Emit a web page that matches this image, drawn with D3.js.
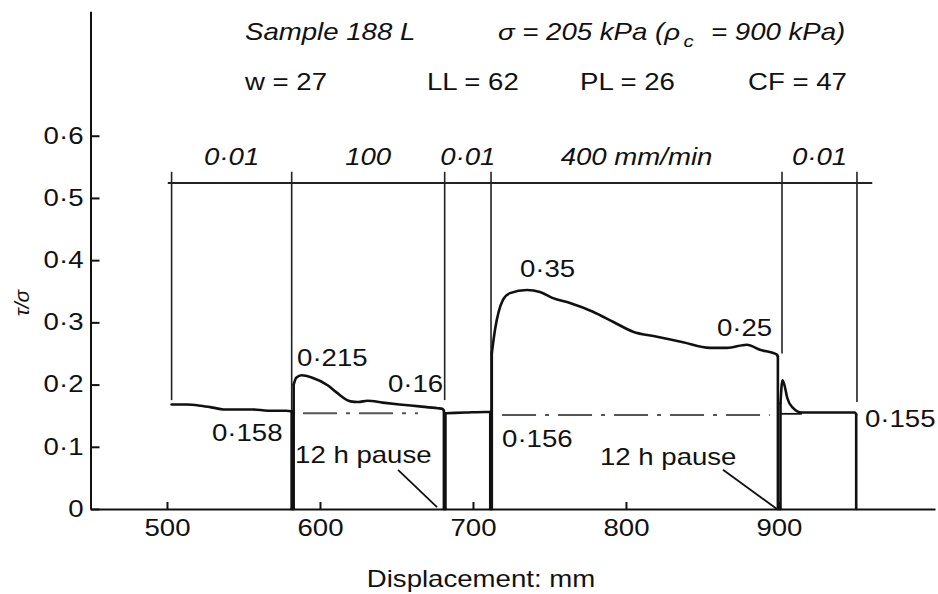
<!DOCTYPE html>
<html>
<head>
<meta charset="utf-8">
<script src="https://cdn.jsdelivr.net/npm/d3@7"></script>
<style>
  body { margin: 0; background: #fff; }
  svg text { font-family: "Liberation Sans", Arial, Helvetica, sans-serif; fill: #111; }
</style>
</head>
<body>
<svg id="chart" width="938" height="594"></svg>
<script>
// values: displacement (mm) vs tau/sigma
const xTicks = [500, 600, 700, 800, 900];
const yTicks = [0, 0.1, 0.2, 0.3, 0.4, 0.5, 0.6];

const rateLabels = ["0·01", "100", "0·01", "400 mm/min", "0·01"];
const rateChanges = [503, 581.5, 681.5, 711.8, 902, 951];
const guideBottoms = [0.175, 0, 0.175, 0, 0.25, 0.172];
const rateLineLevel = 0.524;
const rateLineExtent = [500.5, 961];

const curve = [
  [503, 0.168], [513, 0.168], [522, 0.166], [530, 0.163], [537, 0.160], [545, 0.160],
  [556, 0.160], [566, 0.158], [578, 0.158], [581.5, 0.157],
  [581.5, 0], [582.8, 0], [582.8, 0.2], [584.5, 0.211], [588, 0.215], [595, 0.211],
  [605, 0.199], [611, 0.187], [620, 0.173], [625, 0.172], [631, 0.174], [641, 0.171],
  [652, 0.168], [665, 0.165], [677, 0.162], [680, 0.161], [681, 0.158],
  [681, 0], [682, 0], [682, 0.154], [695, 0.155], [708, 0.156], [711.3, 0.156],
  [711.3, 0], [712.3, 0], [712.3, 0.25], [714.4, 0.288], [719.6, 0.336], [724.2, 0.347],
  [735.3, 0.352], [743.8, 0.349], [752.3, 0.339], [763.4, 0.331], [778.4, 0.317],
  [791.5, 0.301], [804.6, 0.285], [820.3, 0.277], [837.3, 0.268], [854.9, 0.259],
  [866, 0.259], [879, 0.264], [887.6, 0.256], [898.7, 0.248], [899.3, 0.245],
  [899.3, 0], [901, 0], [901, 0.17], [902.3, 0.207], [903.5, 0.2], [905.5, 0.178],
  [909, 0.163], [915, 0.155], [930, 0.155], [949.7, 0.155], [950.5, 0.152], [950.5, 0]
];
const spikeBase = [[901, 0.153], [915, 0.153]];
const residualLines = [
  [[588.9, 0.154], [664, 0.154]],
  [[719, 0.151], [894, 0.151]]
];
const annotations = [
  { text: "0·215", x: 585, y: 0.230 },
  { text: "0·16", x: 644.4, y: 0.188 },
  { text: "0·158", x: 529.4, y: 0.109 },
  { text: "12 h pause", x: 583.7, y: 0.074 },
  { text: "0·35", x: 730.7, y: 0.373 },
  { text: "0·25", x: 859.5, y: 0.278 },
  { text: "0·156", x: 719, y: 0.100 },
  { text: "12 h pause", x: 783, y: 0.071 },
  { text: "0·155", x: 956.2, y: 0.132 }
];
const pauseLeaders = [
  [[651, 0.063], [676.5, 0.003]],
  [[863.4, 0.063], [898.7, 0]]
];

const svg = d3.select("#chart");
const stretch = 1.2;   // the scanned figure is a little wide

const x = d3.scaleLinear().domain([450, 1002]).range([90.5, 935]);
const y = d3.scaleLinear().domain([0, 0.8]).range([509, 11.3]);
const fmt = d => d === 0 ? "0" : d3.format(".1f")(d).replace(".", "·");

function addText(g, px, py, str, anchor, italic, size) {
  return g.append("text")
    .attr("transform", "translate(" + px + "," + py + ") scale(" + stretch + ",1)")
    .attr("text-anchor", anchor || "start")
    .attr("font-style", italic ? "italic" : "normal")
    .attr("font-size", size || 23)
    .text(str);
}

function styleAxis(g) {
  g.attr("font-size", null).attr("font-family", null);
  g.select(".domain").attr("stroke", "#111").attr("stroke-width", 2);
  g.selectAll(".tick line").attr("stroke", "#111").attr("stroke-width", 2);
  g.selectAll(".tick text").each(function () {
    const t = d3.select(this);
    const tx = +t.attr("x") || 0;
    t.attr("x", null)
      .attr("font-size", 23)
      .attr("transform", "translate(" + tx + ",0) scale(" + stretch + ",1)");
  });
}

// split the trace where the pen goes straight up/down, so the
// sloping parts can be smoothed without bending the verticals
function runs(pts) {
  const out = [];
  let cur = [pts[0]];
  for (let i = 1; i < pts.length; i++) {
    if (pts[i][0] === pts[i - 1][0]) {
      if (cur.length > 1) out.push(cur);
      out.push([pts[i - 1], pts[i]]);
      cur = [pts[i]];
    } else {
      cur.push(pts[i]);
    }
  }
  if (cur.length > 1) out.push(cur);
  return out;
}

// axes
svg.append("g")
  .attr("transform", "translate(0," + y(0) + ")")
  .call(d3.axisBottom(x).tickValues(xTicks).tickSizeInner(-7).tickSizeOuter(0).tickPadding(11))
  .call(styleAxis);

svg.append("g")
  .attr("transform", "translate(" + x(450) + ",0)")
  .call(d3.axisLeft(y).tickValues(yTicks).tickFormat(fmt).tickSizeInner(-9).tickSizeOuter(0).tickPadding(7))
  .call(styleAxis);

// rate guide lines
const guides = svg.append("g").attr("stroke", "#222").attr("stroke-width", 1.6).attr("fill", "none");
guides.append("line")
  .attr("x1", x(rateLineExtent[0])).attr("x2", x(rateLineExtent[1]))
  .attr("y1", y(rateLineLevel)).attr("y2", y(rateLineLevel))
  .attr("stroke-width", 2);
rateChanges.forEach((d, i) => {
  guides.append("line")
    .attr("x1", x(d)).attr("x2", x(d))
    .attr("y1", y(rateLineLevel + 0.018)).attr("y2", y(guideBottoms[i]));
});
rateLabels.forEach((lab, i) => {
  const mid = (rateChanges[i] + rateChanges[i + 1]) / 2;
  addText(svg, x(mid), 165, lab, "middle", true);
});

// residual (dash-dot) lines
const line = d3.line().x(d => x(d[0])).y(d => y(d[1]));
const smooth = d3.line().x(d => x(d[0])).y(d => y(d[1])).curve(d3.curveMonotoneX);
residualLines.forEach(r => {
  svg.append("path").attr("d", line(r))
    .attr("fill", "none").attr("stroke", "#555").attr("stroke-width", 2)
    .attr("stroke-dasharray", "34,9,4,9");
});

// the measured curve
svg.append("g").selectAll("path")
  .data(runs(curve))
  .enter().append("path")
  .attr("d", smooth)
  .attr("fill", "none").attr("stroke", "#111").attr("stroke-width", 2.6)
  .attr("stroke-linejoin", "round").attr("stroke-linecap", "round");
svg.append("path").attr("d", line(spikeBase))
  .attr("fill", "none").attr("stroke", "#111").attr("stroke-width", 1.8);

// pause leaders
pauseLeaders.forEach(p => {
  svg.append("path").attr("d", line(p))
    .attr("fill", "none").attr("stroke", "#111").attr("stroke-width", 1.8);
});

// annotations
annotations.forEach(a => addText(svg, x(a.x), y(a.y), a.text, "start", false));

// header
addText(svg, 245, 40, "Sample 188 L", "start", true);
const sig = addText(svg, 498, 40, "σ = 205 kPa (ρ", "start", true);
sig.append("tspan").attr("dx", 3).attr("dy", 7).attr("font-size", 17).text("c");
sig.append("tspan").attr("dx", 8).attr("dy", -7).text(" = 900 kPa)");
addText(svg, 245, 90, "w = 27", "start", false);
addText(svg, 427, 90, "LL = 62", "start", false);
addText(svg, 580, 90, "PL = 26", "start", false);
addText(svg, 748, 90, "CF = 47", "start", false);

// axis titles
addText(svg, 481, 587, "Displacement: mm", "middle", false);
svg.append("text")
  .attr("transform", "translate(29,303) rotate(-90)")
  .attr("text-anchor", "middle")
  .attr("font-style", "italic")
  .attr("font-size", 21)
  .text("τ/σ");
</script>
</body>
</html>
